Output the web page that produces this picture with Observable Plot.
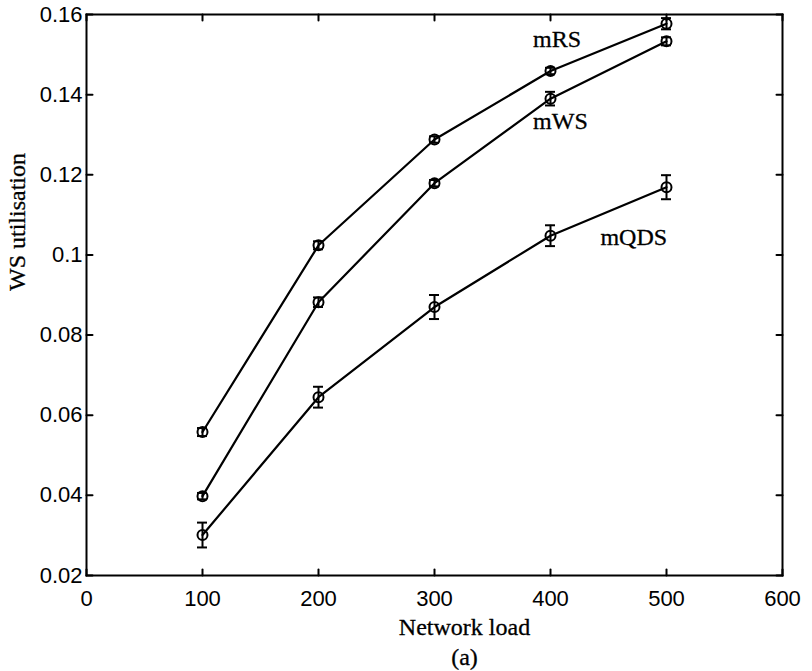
<!DOCTYPE html>
<html>
<head>
<meta charset="utf-8">
<script src="https://cdn.jsdelivr.net/npm/d3@7"></script>
<script src="https://cdn.jsdelivr.net/npm/@observablehq/plot@0.6"></script>
<style>
  html, body { margin: 0; padding: 0; background: #fff; }
  #chart svg { display: block; }
</style>
</head>
<body>
<div id="chart"></div>
<script>
// ---- data ----
const loads = [100, 200, 300, 400, 500];
const seriesNames = ["mRS", "mWS", "mQDS"];
const mRS  = [0.0558, 0.1024, 0.1288, 0.1459, 0.1577];
const mWS  = [0.0398, 0.0882, 0.1179, 0.1390, 0.1533];
const mQDS = [0.0301, 0.0645, 0.0870, 0.1048, 0.1169];
const errRS  = [0.0010, 0.0010, 0.0008, 0.0008, 0.0014];
const errWS  = [0.0008, 0.0012, 0.0008, 0.0017, 0.0010];
const errQDS = [0.0031, 0.0026, 0.0030, 0.0026, 0.0030];
const xTicks = [0, 100, 200, 300, 400, 500, 600];
const yTicks = [0.02, 0.04, 0.06, 0.08, 0.1, 0.12, 0.14, 0.16];
const labelX = [385, 385, 443];
const labelY = [0.1518, 0.1315, 0.1024];
const xTitle = "Network load";
const yTitle = "WS utilisation";
const caption = "(a)";

const values = [mRS, mWS, mQDS];
const errs = [errRS, errWS, errQDS];
const rows = [];
seriesNames.forEach((s, i) => loads.forEach((x, j) => rows.push({series: s, x, y: values[i][j], e: errs[i][j]})));
const labels = seriesNames.map((s, i) => ({text: s, x: labelX[i], y: labelY[i]}));

const sans = "'Liberation Sans', Arial, Helvetica, sans-serif";
const serif = "'Liberation Serif', 'Times New Roman', Times, serif";
const spike = {draw(context, l) { context.moveTo(0, 0); context.lineTo(0, -l); }};
const tickOpts = {length: 6, anchor: "start", shape: spike, stroke: "#000", strokeWidth: 2};
const numStyle = {fontSize: 22, fontFamily: sans, fill: "#000", stroke: "#000", strokeWidth: 0.5, tickSize: 0, label: null};

const chart = Plot.plot({
  width: 812,
  height: 671,
  marginLeft: 86,
  marginRight: 30,
  marginTop: 14,
  marginBottom: 96,
  style: {background: "#fff", color: "#000"},
  x: {domain: [0, 600]},
  y: {domain: [0.02, 0.16]},
  marks: [
    // inward tick marks on all four sides
    Plot.vector(xTicks, {x: d => d, frameAnchor: "bottom", rotate: 0, ...tickOpts}),
    Plot.vector(xTicks, {x: d => d, frameAnchor: "top", rotate: 180, ...tickOpts}),
    Plot.vector(yTicks, {y: d => d, frameAnchor: "left", rotate: 90, ...tickOpts}),
    Plot.vector(yTicks, {y: d => d, frameAnchor: "right", rotate: -90, ...tickOpts}),
    // tick labels
    Plot.axisX({anchor: "bottom", ticks: xTicks, tickPadding: 15, tickFormat: d => String(d), ...numStyle}),
    Plot.axisY({anchor: "left", ticks: yTicks, tickPadding: 4, tickFormat: d => String(d), ...numStyle}),
    Plot.frame({stroke: "#000", strokeWidth: 2}),
    Plot.line(rows, {x: "x", y: "y", z: "series", stroke: "#000", strokeWidth: 2.2}),
    Plot.ruleX(rows, {x: "x", y1: d => d.y - d.e, y2: d => d.y + d.e, stroke: "#000", strokeWidth: 2}),
    Plot.ruleY(rows, {y: d => d.y - d.e, x1: d => d.x - 4.3, x2: d => d.x + 4.3, stroke: "#000", strokeWidth: 2}),
    Plot.ruleY(rows, {y: d => d.y + d.e, x1: d => d.x - 4.3, x2: d => d.x + 4.3, stroke: "#000", strokeWidth: 2}),
    Plot.dot(rows, {x: "x", y: "y", r: 5, stroke: "#000", strokeWidth: 2, fill: "none"}),
    Plot.text(labels, {x: "x", y: "y", text: "text", textAnchor: "start", lineAnchor: "bottom",
      fontSize: 24, fontFamily: serif, fill: "#000", stroke: "#000", strokeWidth: 0.3}),
    Plot.text([xTitle], {frameAnchor: "bottom", dx: 30, dy: 59, lineAnchor: "bottom",
      fontSize: 24, fontFamily: serif, fill: "#000", stroke: "#000", strokeWidth: 0.3}),
    Plot.text([caption], {frameAnchor: "bottom", dx: 30, dy: 89, lineAnchor: "bottom",
      fontSize: 24, fontFamily: serif, fill: "#000", stroke: "#000", strokeWidth: 0.3}),
    Plot.text([yTitle], {frameAnchor: "left", dx: -69, dy: -4, rotate: -90,
      fontSize: 24, fontFamily: serif, fill: "#000", stroke: "#000", strokeWidth: 0.3})
  ]
});
document.getElementById("chart").appendChild(chart);
</script>
</body>
</html>
